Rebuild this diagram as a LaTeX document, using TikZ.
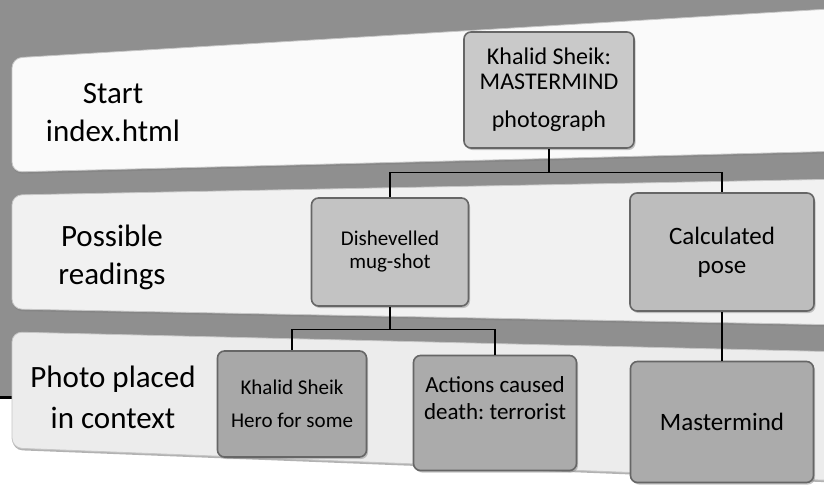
\documentclass[tikz,border=0pt]{standalone}
\usepackage{fontspec}
\setmainfont{Carlito}
\frenchspacing
\usetikzlibrary{positioning, calc, shadows}

\begin{document}
\begin{tikzpicture}[x=1pt, y=-1pt,
    band/.style={draw=gray!45, line width=0.8pt, rounded corners=10pt,
      drop shadow={shadow xshift=0.5pt, shadow yshift=-2pt, opacity=0.6}},
    rowlabel/.style={align=center, font=\fontsize{31}{38}\selectfont},
    card/.style={draw=black!60, line width=1.6pt, rounded corners=7pt,
      align=center, inner sep=0pt,
      drop shadow={shadow xshift=1.5pt, shadow yshift=-2pt, opacity=0.45}},
    link/.style={draw=black, line width=1.3pt}]
  \clip (0,0) rectangle (824,488);
  \useasboundingbox (0,0) rectangle (824,488);
  % slide background
  \fill[white] (0,0) rectangle (824,488);
  \fill[gray!88] (0,0) rectangle (824,397);
  \draw[line width=3pt] (0,397) -- (40,397);
  % the three rows
  \draw[band, fill=gray!4] (12,58) -- (846,8) -- (846,151) -- (12,172) -- cycle;
  \draw[band, fill=gray!11] (12,195) -- (846,179) -- (846,325) -- (12,309) -- cycle;
  \draw[band, fill=gray!15] (12,332) -- (846,352) -- (846,481) -- (12,448) -- cycle;

  \node[rowlabel] (start) at (113,113) {Start\\index.html};
  \node[rowlabel] (readings) at (112,257) {Possible\\readings};
  \node[rowlabel, font=\fontsize{31}{41}\selectfont] (context) at (113,397) {Photo placed\\in context};

  \node[card, fill=gray!42, minimum width=170pt, minimum height=116pt,
    font=\fontsize{24}{25}\selectfont] (photo) at (549,90)
    {Khalid Sheik:\\MASTERMIND\\[13pt]photograph};
  \node[card, fill=gray!47, minimum width=157pt, minimum height=108pt,
    font=\fontsize{21}{23}\selectfont] (dish) at (390,252)
    {Dishevelled\\mug-shot};
  \node[card, fill=gray!52, minimum width=184pt, minimum height=118pt,
    font=\fontsize{25}{29}\selectfont] (calc) at (722,252)
    {Calculated\\pose};
  \node[card, fill=gray!68, minimum width=149pt, minimum height=106pt,
    font=\fontsize{21}{25}\selectfont] (hero) at (292,404)
    {Khalid Sheik\\[8pt]Hero for some};
  \node[card, fill=gray!66, minimum width=163pt, minimum height=115pt,
    font=\fontsize{23}{27}\selectfont] (terror) at (495,413)
    {Actions caused\\death: terrorist\\[2pt]\mbox{}};
  \node[card, fill=gray!66, minimum width=183pt, minimum height=121pt,
    font=\fontsize{25}{29}\selectfont] (mind) at (722,422)
    {Mastermind};

  \draw[link] (photo.south) -- ++(0,24) coordinate (fork1) -| (calc.north);
  \draw[link] (fork1) -| (dish.north);
  \draw[link] (dish.south) -- ++(0,23) coordinate (fork2) -| (hero.north);
  \draw[link] (fork2) -| (terror.north);
  \draw[link] (calc.south) -- (mind.north);
\end{tikzpicture}
\end{document}
